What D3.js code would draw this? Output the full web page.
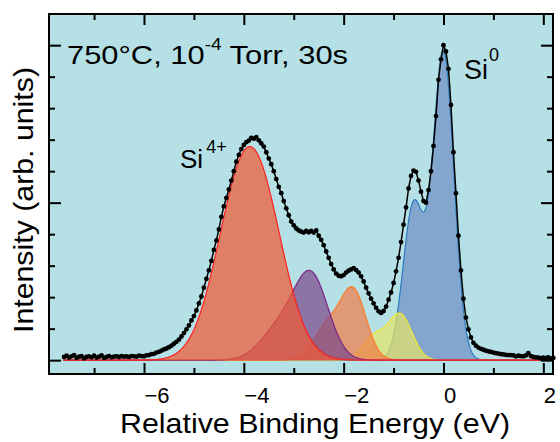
<!DOCTYPE html>
<html>
<head>
<meta charset="utf-8">
<script src="https://cdn.jsdelivr.net/npm/d3@7"></script>
<style>
  body { margin: 0; background: #fff; }
  svg { display: block; font-family: "Liberation Sans", Arial, sans-serif; }
</style>
</head>
<body>
<svg id="chart" width="560" height="442"></svg>
<script>
const energyStart = -7.6;
const energyStep = 0.05;
const intensity = [
  0.10, 0.14, 0.08, 0.12, 0.16, 0.07, 0.11, 0.13, 0.06, 0.10,
  0.12, 0.09, 0.14, 0.08, 0.11, 0.15, 0.07, 0.10, 0.13, 0.09,
  0.11, 0.12, 0.10, 0.13, 0.11, 0.12, 0.10, 0.13, 0.12, 0.11,
  0.14, 0.13, 0.12, 0.15, 0.16, 0.19, 0.20, 0.24, 0.26, 0.30,
  0.34, 0.37, 0.41, 0.46, 0.52, 0.58, 0.65, 0.75, 0.86, 0.98,
  1.10, 1.26, 1.40, 1.58, 1.80, 2.02, 2.30, 2.58, 2.85, 3.15,
  3.50, 3.80, 4.15, 4.55, 4.88, 5.15, 5.42, 5.70, 6.00, 6.30,
  6.52, 6.70, 6.83, 6.92, 6.97, 7.06, 7.03, 7.08, 6.98, 6.88,
  6.78, 6.60, 6.40, 6.22, 6.00, 5.75, 5.50, 5.30, 5.05, 4.82,
  4.60, 4.40, 4.28, 4.18, 4.12, 4.08, 4.05, 4.10, 4.06, 4.10,
  4.05, 4.12, 3.95, 3.82, 3.65, 3.45, 3.25, 3.05, 2.88, 2.75,
  2.68, 2.66, 2.70, 2.78, 2.84, 2.88, 2.92, 2.86, 2.78, 2.66,
  2.50, 2.30, 2.12, 1.95, 1.80, 1.66, 1.55, 1.50, 1.56, 1.70,
  1.92, 2.15, 2.45, 2.82, 3.25, 3.75, 4.30, 4.85, 5.45, 5.85,
  6.02, 5.98, 5.70, 5.35, 5.05, 5.00, 5.40, 6.00, 6.80, 7.75,
  8.90, 9.55, 10.00, 9.80, 9.25, 8.10, 6.60, 5.30, 3.95, 2.85,
  1.95, 1.35, 0.98, 0.72, 0.55, 0.46, 0.40, 0.36, 0.33, 0.30,
  0.28, 0.26, 0.24, 0.22, 0.21, 0.19, 0.18, 0.17, 0.16, 0.16,
  0.15, 0.12, 0.14, 0.13, 0.12, 0.15, 0.22, 0.13, 0.10, 0.09,
  0.08, 0.06, 0.08, 0.06, 0.09, 0.05, 0.07
];

// fitted components, each a list of gaussian sub-peaks [centre eV, height, sigma]
const componentNames = ['Si0', 'Si1+', 'Si2+', 'Si3+', 'Si4+'];
const componentPeaks = [
  [[0.00, 9.75, 0.21], [-0.60, 4.90, 0.21]],
  [[-0.87, 1.45, 0.24], [-1.40, 0.72, 0.22]],
  [[-1.81, 2.20, 0.26], [-2.35, 1.00, 0.26]],
  [[-2.64, 2.58, 0.34], [-3.28, 1.00, 0.38]],
  [[-3.62, 3.88, 0.50], [-4.14, 3.88, 0.50]]
];
const componentStroke = ['#2b7bbd', '#f2e632', '#ff7a22', '#7c2488', '#ff2020'];
const componentFill = ['#6f8fc4', '#e6e46a', '#f07d48', '#7d4a8a', '#f05a35'];

const xMajorTicks = [-6, -4, -2, 0, 2];
const xMinorTicks = [-7, -5, -3, -1, 1];
const yMajorTicks = [0, 5, 10];
const yMinorTicks = [1, 2, 3, 4, 6, 7, 8, 9];

const svg = d3.select('#chart');
const plotL = 49, plotR = 553, plotT = 14, plotB = 374;

const x = d3.scaleLinear().domain([-7.903, 2.194]).range([plotL, plotR]);
const y = d3.scaleLinear().domain([-0.44, 10.99]).range([plotB, plotT]);

svg.append('rect')
  .attr('x', plotL).attr('y', plotT)
  .attr('width', plotR - plotL).attr('height', plotB - plotT)
  .attr('fill', '#b5e1e6');

const data = intensity.map((v, i) => ({ e: energyStart + i * energyStep, v }));
const eMin = -7.62, eMax = 2.194;
const grid = d3.range(eMin, eMax, 0.01).concat([eMax]);

const gauss = (e, p) => p[1] * Math.exp(-((e - p[0]) ** 2) / (2 * p[2] * p[2]));

const area = d3.area().x(d => x(d.e)).y0(y(0)).y1(d => y(d.v));
const line = d3.line().x(d => x(d.e)).y(d => y(d.v));

const comps = svg.append('g');
componentPeaks.forEach((peaks, i) => {
  const pts = grid.map(e => ({ e, v: d3.sum(peaks, p => gauss(e, p)) }));
  comps.append('path')
    .attr('class', 'comp ' + componentNames[i])
    .attr('d', area(pts))
    .attr('fill', componentFill[i])
    .attr('fill-opacity', 0.72);
  comps.append('path')
    .attr('d', line(pts))
    .attr('fill', 'none')
    .attr('stroke', componentStroke[i])
    .attr('stroke-width', 1.2);
});

// measured points
svg.append('path')
  .attr('d', line(data))
  .attr('fill', 'none')
  .attr('stroke', '#000')
  .attr('stroke-width', 1.5);
svg.append('g').selectAll('circle')
  .data(data)
  .join('circle')
  .attr('cx', d => x(d.e))
  .attr('cy', d => y(d.v))
  .attr('r', 2.4)
  .attr('fill', '#000');

// axes, ticks pointing inward
const tickStyle = g => {
  g.select('.domain').remove();
  g.selectAll('line').attr('stroke', '#000').attr('stroke-width', 2);
};

svg.append('g').attr('transform', `translate(0,${plotB})`)
  .call(d3.axisBottom(x).tickValues(xMinorTicks).tickSize(-6).tickFormat(''))
  .call(tickStyle);
const xb = svg.append('g').attr('transform', `translate(0,${plotB})`)
  .call(d3.axisBottom(x).tickValues(xMajorTicks).tickSize(-11))
  .call(tickStyle);
xb.selectAll('text')
  .attr('dy', null)
  .attr('y', 29)
  .attr('x', 0)
  .attr('text-anchor', 'start')
  .attr('fill', '#000')
  .style('font-size', '22px')
  .style('font-family', '"Liberation Sans", Arial, sans-serif')
  .text(d => d < 0 ? '\u2212' + Math.abs(d) : String(d));

svg.append('g').attr('transform', `translate(0,${plotT})`)
  .call(d3.axisTop(x).tickValues(xMinorTicks).tickSize(-6).tickFormat(''))
  .call(tickStyle);
svg.append('g').attr('transform', `translate(0,${plotT})`)
  .call(d3.axisTop(x).tickValues(xMajorTicks).tickSize(-11).tickFormat(''))
  .call(tickStyle);

[[d3.axisLeft, plotL], [d3.axisRight, plotR]].forEach(([ax, pos]) => {
  svg.append('g').attr('transform', `translate(${pos},0)`)
    .call(ax(y).tickValues(yMinorTicks).tickSize(-6).tickFormat(''))
    .call(tickStyle);
  svg.append('g').attr('transform', `translate(${pos},0)`)
    .call(ax(y).tickValues(yMajorTicks).tickSize(-12).tickFormat(''))
    .call(tickStyle);
});

svg.append('rect')
  .attr('x', plotL).attr('y', plotT)
  .attr('width', plotR - plotL).attr('height', plotB - plotT)
  .attr('fill', 'none')
  .attr('stroke', '#000')
  .attr('stroke-width', 2);

// titles
svg.append('text')
  .attr('x', 120).attr('y', 433)
  .attr('textLength', 390)
  .attr('lengthAdjust', 'spacingAndGlyphs')
  .style('font-size', '28px')
  .text('Relative Binding Energy (eV)');
svg.append('text')
  .attr('transform', 'translate(33,333) rotate(-90)')
  .attr('textLength', 266)
  .attr('lengthAdjust', 'spacingAndGlyphs')
  .style('font-size', '28px')
  .text('Intensity (arb. units)');

// annotations
const cond = svg.append('text').attr('x', 67).attr('y', 64)
  .attr('textLength', 281)
  .attr('lengthAdjust', 'spacingAndGlyphs')
  .style('font-size', '26px');
cond.append('tspan').text('750°C, 10');
cond.append('tspan').attr('dy', -14).style('font-size', '16px').text('-4');
cond.append('tspan').attr('dy', 14).text(' Torr, 30s');

const si4 = svg.append('text').attr('x', 180).attr('y', 168).style('font-size', '26px');
si4.append('tspan').text('Si');
si4.append('tspan').attr('dx', 3).attr('dy', -15).style('font-size', '18px').text('4+');

const si0 = svg.append('text').attr('x', 464).attr('y', 79).style('font-size', '27px');
si0.append('tspan').text('Si');
si0.append('tspan').attr('dx', 1).attr('dy', -18).style('font-size', '18px').text('0');
</script>
</body>
</html>
